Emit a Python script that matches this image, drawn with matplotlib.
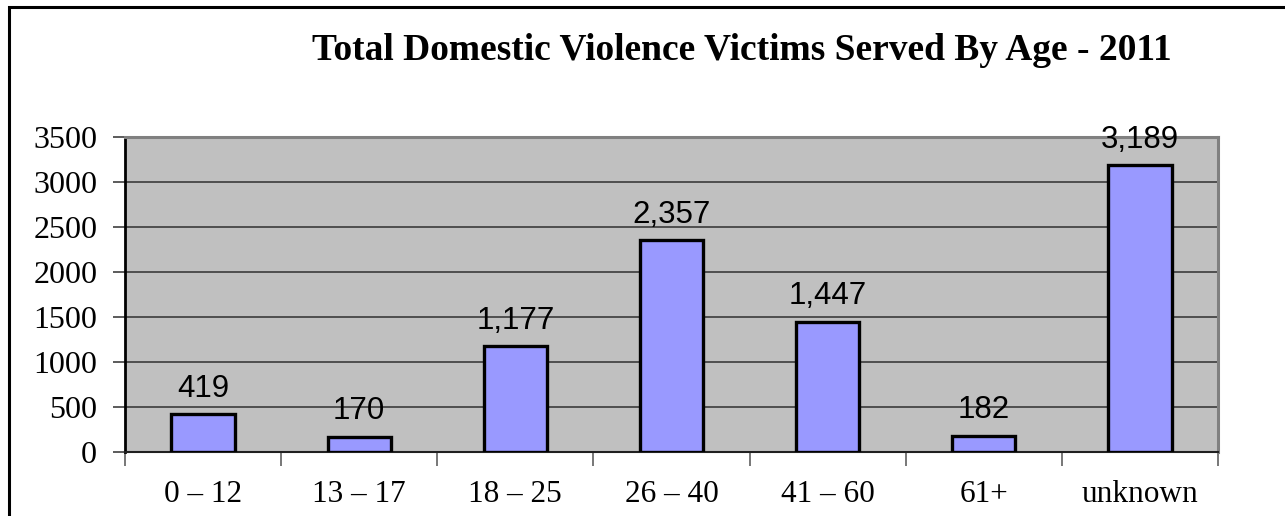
import numpy as np
import matplotlib
matplotlib.use('Agg')
import matplotlib.pyplot as plt
from matplotlib.patches import Rectangle

# victims served per age group
age_groups = ['0 \u2013 12', '13 \u2013 17', '18 \u2013 25', '26 \u2013 40', '41 \u2013 60', '61+', 'unknown']
victims = [419, 170, 1177, 2357, 1447, 182, 3189]
y_ticks = [0, 500, 1000, 1500, 2000, 2500, 3000, 3500]

serif = 'Liberation Serif'
sans = 'Liberation Sans'

fig = plt.figure(figsize=(12.85, 5.16), dpi=100)
ax = fig.add_axes([125/1285, 1-452/516, (1218-125)/1285, (452-137)/516])
ax.set_facecolor('#C0C0C0')

# outer chart frame (runs off the right/bottom edge)
fig.patches.append(Rectangle((9/1285, -0.1), 1.2, 1-7/516+0.1, transform=fig.transFigure,
                             fill=False, edgecolor='black', linewidth=2.2, zorder=0))

x = np.arange(len(victims))
ax.bar(x, victims, width=0.405, color='#9999FF', edgecolor='black', linewidth=2.4, zorder=3)

for xi, v in zip(x, victims):
    ax.annotate('{:,}'.format(v), (xi, v), xytext=(0, 12.5), textcoords='offset points',
                ha='center', va='baseline', fontsize=22.5, family=sans, zorder=4)

ax.set_xlim(-0.5, len(victims) - 0.5)
ax.set_ylim(0, 3500)
ax.set_yticks(y_ticks)
ax.set_yticklabels([str(t) for t in y_ticks], family=serif, fontsize=23)
ax.yaxis.grid(True, color='#303030', linewidth=1.1, zorder=1)
ax.set_axisbelow(True)

# category boundaries carry the tick marks, names sit between them
ax.set_xticks(np.arange(-0.5, len(victims), 1.0))
ax.set_xticklabels([])
ax.set_xticks(x, minor=True)
ax.set_xticklabels(age_groups, minor=True, family=serif, fontsize=22.5)
ax.tick_params(axis='x', which='major', length=10, width=1.2, color='#606060', direction='out')
ax.tick_params(axis='x', which='minor', length=0, pad=20)
ax.tick_params(axis='y', length=9, width=1.2, color='#404040', pad=11)

ax.spines['left'].set_color('black')
ax.spines['left'].set_linewidth(2)
ax.spines['bottom'].set_color('#202020')
ax.spines['bottom'].set_linewidth(1.5)
for s in ('top', 'right'):
    ax.spines[s].set_color('#808080')
    ax.spines[s].set_linewidth(2.2)

fig.text(742/1285, 1-50/516, 'Total Domestic Violence Victims Served By Age - 2011',
         ha='center', va='center', family=serif, fontweight='bold', fontsize=27)

fig.savefig('out.png', dpi=100)
